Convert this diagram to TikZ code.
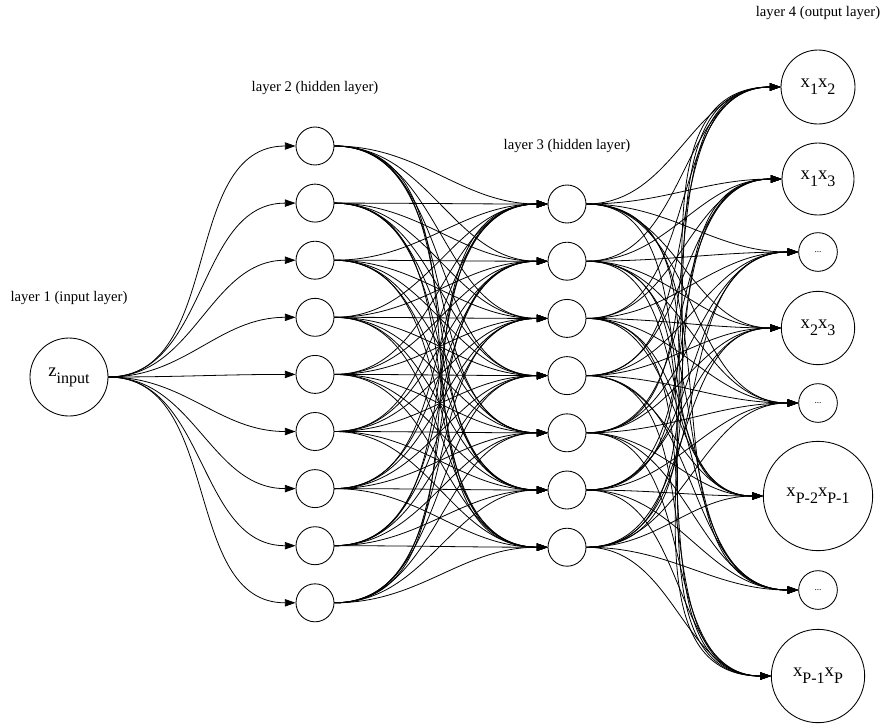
\documentclass[tikz,border=0pt]{standalone}
\usepackage{fontspec}
\setmainfont{Liberation Serif}
\usepackage{tikz}
\usetikzlibrary{arrows.meta}
\newcommand{\lowsub}[1]{\raisebox{-0.8ex}{\fontsize{12}{12}\selectfont #1}}

\begin{document}
\begin{tikzpicture}[x=0.75pt,y=-0.75pt,
		every node/.style={font=\fontsize{14}{16}\selectfont},
		neuron/.style={circle,draw,line width=0.65pt,inner sep=0pt,minimum size=28.5pt},
		conn/.style={line width=0.6pt,-{Triangle[length=8pt,width=5.5pt]}},
		title/.style={font=\fontsize{11}{13}\selectfont}]
		\useasboundingbox (0,0) rectangle (884,726);
		% layer 1
		\node [neuron,minimum size=58.5pt] (z) at (69,377) {z\lowsub{input}};
		% layer 2
		\foreach \i in {1,...,9}
			\node [neuron] (h\i) at (315,{146+57.1*(\i-1)}) {};
		% layer 3
		\foreach \j in {1,...,7}
			\node [neuron] (g\j) at (567,{204+57.2*(\j-1)}) {};
		% layer 4
		\foreach \y/\dia/\txt [count=\k] in {
				87/55.5/{x\lowsub{1}x\lowsub{2}},
				179/54/{x\lowsub{1}x\lowsub{3}},
				252/29/{\fontsize{7}{7}\selectfont ...},
				328/55/{x\lowsub{2}x\lowsub{3}},
				403/29/{\fontsize{7}{7}\selectfont ...},
				496/82/{x\lowsub{P-2}x\lowsub{P-1}},
				590/29/{\fontsize{7}{7}\selectfont ...},
				676/70/{x\lowsub{P-1}x\lowsub{P}}}
			\node [neuron,minimum size=\dia pt] (o\k) at (818,\y) {\txt};

		% titles
		\node [title] (t1) at (69,298) {layer 1 (input layer)};
		\node [title] (t2) at (315,88) {layer 2 (hidden layer)};
		\node [title] (t3) at (567,146) {layer 3 (hidden layer)};
		\node [title] (t4) at (818,13) {layer 4 (output layer)};

		% connections
		\foreach \i in {1,...,9}
			\draw [conn] (z.east) to[out=0,in=180] (h\i.west);
		\foreach \i in {1,...,9}
			\foreach \j in {1,...,7}
				\draw [conn] (h\i.east) to[out=0,in=180] (g\j.west);
		\foreach \j in {1,...,7}
			\foreach \k in {1,...,8}
				\draw [conn] (g\j.east) to[out=0,in=180] (o\k.west);
\end{tikzpicture}
\end{document}
